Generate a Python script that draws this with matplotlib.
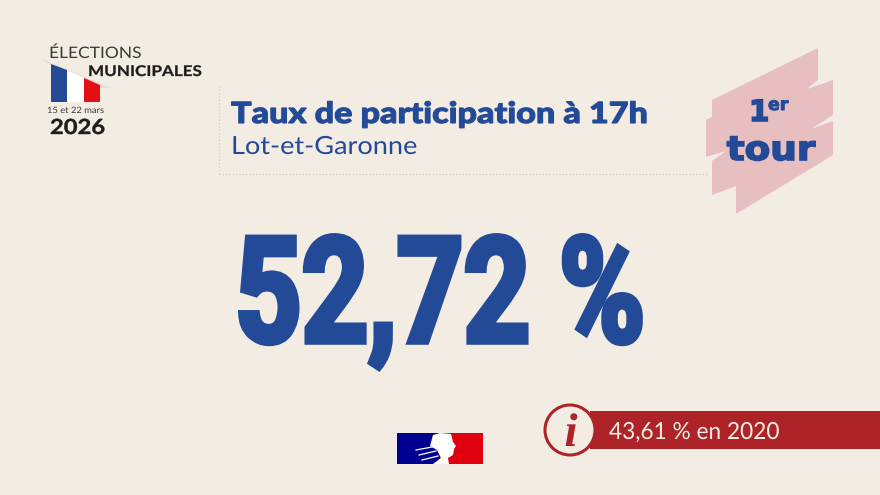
import matplotlib
matplotlib.use("Agg")
import matplotlib.pyplot as plt
from matplotlib.patheffects import AbstractPathEffect
from matplotlib.transforms import Affine2D
from matplotlib.patches import Polygon, Rectangle, Circle

title = "Taux de participation à 17h"
department = "Lot-et-Garonne"
rate_2026 = "52,72 %"
rate_2020 = "43,61 % en 2020"

BG = "#f3ece3"
BLUE = "#234a97"
RED = "#ae2328"
PINK = "#e8bfc0"
INK = "#1d1d1b"


class Squeeze(AbstractPathEffect):
    """Draws a text with its glyphs stretched horizontally about x0, optionally emboldened."""
    def __init__(self, x0, sx, stroke, color):
        super().__init__()
        self.x0, self.sx, self.stroke, self.color = x0, sx, stroke, color

    def draw_path(self, renderer, gc, tpath, affine, rgbFace=None):
        aff = affine + Affine2D().translate(-self.x0, 0).scale(self.sx, 1).translate(self.x0, 0)
        gc0 = renderer.new_gc()
        gc0.copy_properties(gc)
        if self.stroke:
            gc0.set_foreground(self.color)
            gc0.set_linewidth(self.stroke)
            gc0.set_joinstyle("miter")
        else:
            gc0.set_linewidth(0)
        renderer.draw_path(gc0, tpath, aff, rgbFace)
        gc0.restore()


fig = plt.figure(figsize=(8.8, 4.95), dpi=100, facecolor=BG)
ax = fig.add_axes([0, 0, 1, 1])
ax.set_xlim(0, 880)
ax.set_ylim(495, 0)
ax.axis("off")


def T(x, y, s, size, color, family="Lato", weight="normal", ha="left", stroke=0, sx=1.0, z=5, style="normal"):
    t = ax.text(x, y, s, fontsize=size, color=color, family=family, weight=weight,
                ha=ha, va="baseline", zorder=z, style=style)
    t.set_path_effects([Squeeze(x, sx, stroke, color)])
    return t


# logo top-left
ax.add_patch(Polygon([(40, 58), (112, 88), (100, 88), (51, 66)], fc="#e7e0d7", ec="none"))
T(49, 58, "ÉLECTIONS", 11.4, "#3a3a38", sx=1.10)
T(88, 76, "MUNICIPALES", 10.6, INK, weight="bold", stroke=0.2, sx=1.16)
ax.add_patch(Polygon([(51, 64), (67, 70), (67, 102), (51, 102)], fc="#234a97", ec="none"))
ax.add_patch(Polygon([(67, 70), (84, 78), (84, 102), (67, 102)], fc="#ffffff", ec="none"))
ax.add_patch(Polygon([(84, 78), (100, 85), (100, 102), (84, 102)], fc="#e30f13", ec="none"))
T(47, 113, "15 et 22 mars", 6.3, "#3a3a38", sx=1.07)
T(50, 134, "2026", 15, INK, weight="bold", stroke=0.3, sx=1.14)

# dotted frame
ax.plot([219, 219], [86, 174], color=PINK, lw=0.8, ls=(0, (1, 2)))
ax.plot([219, 707], [174, 174], color="#d8c4b8", lw=0.8, ls=(0, (1, 2)))

# title
T(231, 123, title, 21, BLUE, family="Lato", weight="black", stroke=0.8, sx=1.17)
T(231, 154, department, 18, BLUE, family="Lato", sx=1.085)

# round badge
ax.add_patch(Polygon([(712, 100), (818, 48), (818, 80), (807, 89), (833, 80), (833, 115),
                      (811, 129), (833, 121), (833, 155), (736, 214), (736, 186),
                      (712, 195), (712, 161), (726, 151), (706, 157), (706, 120), (712, 117)],
                     fc=PINK, ec="none"))
T(749, 121, "1", 21, BLUE, family="DejaVu Sans", weight="bold", stroke=1.2)
T(768, 110, "er", 12.5, BLUE, family="DejaVu Sans", weight="bold", stroke=0.7)
T(771, 160, "tour", 24, BLUE, family="DejaVu Sans", weight="bold", ha="center", stroke=1.2, sx=1.12)

# main figure
T(440, 342, rate_2026, 106, BLUE, family="Roboto", weight="bold", ha="center", stroke=4, sx=0.79)

# RF logo
ax.add_patch(Rectangle((397, 433), 43, 31, fc="#000091", ec="none"))
ax.add_patch(Rectangle((440, 433), 43, 31, fc="#e1000f", ec="none"))
ax.add_patch(Polygon([(433, 435), (440, 433), (451, 434), (453, 442), (456, 446), (454, 449),
                      (453, 455), (448, 458), (449, 464), (433, 464), (441, 458), (437, 450),
                      (430, 446)], fc="white", ec="none"))
ax.plot([416, 432], [450, 447], color="white", lw=0.9)
ax.plot([419, 436], [455, 451], color="white", lw=0.9)
ax.plot([422, 438], [460, 456], color="white", lw=0.9)

# info banner
ax.add_patch(Rectangle((590, 411), 290, 38, fc=RED, ec="none", zorder=2))
ax.add_patch(Circle((570, 430), 25, fc=BG, ec=RED, lw=2.2, zorder=3))
T(571, 446, "i", 34, RED, family="Liberation Serif", weight="bold", ha="center", style="italic")
T(609, 439, rate_2020, 17, "#f6eee6", family="Lato", sx=0.96)

fig.savefig("out.png", dpi=100, facecolor=BG)
